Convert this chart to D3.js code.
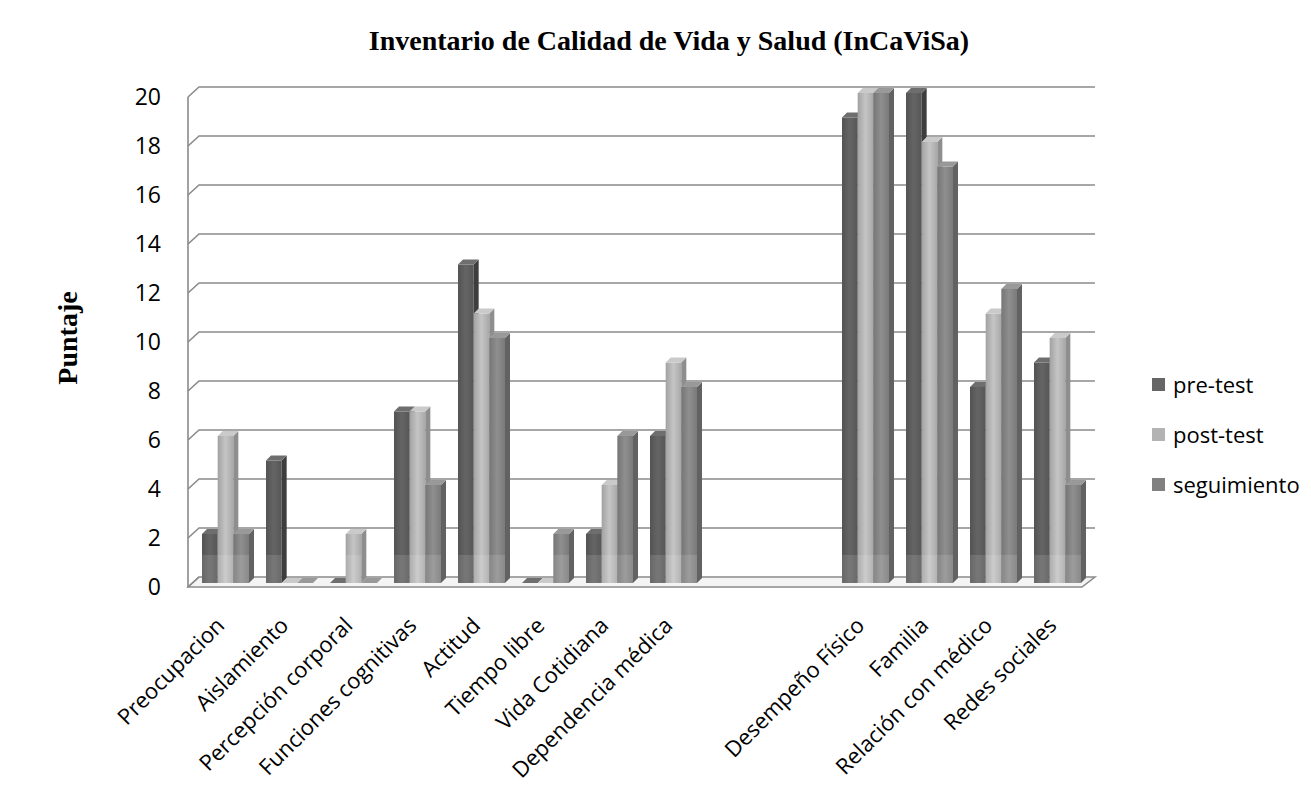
<!DOCTYPE html>
<html>
<head>
<meta charset="utf-8">
<script src="https://cdn.jsdelivr.net/npm/d3@7"></script>
<style>
	body { margin: 0; background: #fff; }
	text { fill: #000; }
</style>
</head>
<body>
<div id="chart"></div>
<script>
// data
var categories = ["Preocupacion", "Aislamiento", "Percepción corporal", "Funciones cognitivas", "Actitud",
	"Tiempo libre", "Vida Cotidiana", "Dependencia médica", "", "", "Desempeño Físico", "Familia",
	"Relación con médico", "Redes sociales"];
var series = ["pre-test", "post-test", "seguimiento"];
var preTest = [2, 5, 0, 7, 13, 0, 2, 6, null, null, 19, 20, 8, 9];
var postTest = [6, 0, 2, 7, 11, 0, 4, 9, null, null, 20, 18, 11, 10];
var seguimiento = [2, 0, 0, 4, 10, 2, 6, 8, null, null, 20, 17, 12, 4];
var yTicks = [0, 2, 4, 6, 8, 10, 12, 14, 16, 18, 20];

var values = [preTest, postTest, seguimiento];
var colors = ["#5c5c5c", "#b4b4b4", "#838383"];
var sideColors = ["#3e3e3e", "#8e8e8e", "#626262"];
var topColors = ["#6e6e6e", "#cacaca", "#999999"];

var width = 1311, height = 788;
var depthX = 11, depthY = -10; // wall depth
var svg = d3.select("#chart").append("svg")
	.attr("width", width)
	.attr("height", height);

var y = d3.scaleLinear().domain([0, 20]).range([577, 87]);
var x0 = d3.scaleBand().domain(d3.range(categories.length)).range([188, 1084]);
var x1 = d3.scaleBand().domain(series).range([14, 61]);

var defs = svg.append("defs");
colors.forEach(function(c, i) {
	var g = defs.append("linearGradient").attr("id", "g" + i);
	var base = d3.color(c);
	g.append("stop").attr("offset", "0%").attr("stop-color", base.darker(0.3));
	g.append("stop").attr("offset", "50%").attr("stop-color", base.brighter(0.25));
	g.append("stop").attr("offset", "100%").attr("stop-color", base.darker(0.2));
});

// floor
var left = x0.range()[0], right = x0.range()[1];
svg.append("path")
	.attr("d", "M" + left + "," + (y(0) + 10) + "L" + (right - 2) + "," + (y(0) + 10) +
		"L" + (right + depthX) + "," + y(0) + "L" + (left + depthX) + "," + y(0) + "Z")
	.style("fill", "#f4f4f4")
	.style("stroke", "#8a8a8a")
	.style("stroke-width", 1.5);

// back wall gridlines and side wall
var grid = svg.append("g");
grid.selectAll(".grid")
	.data(yTicks.slice(1))
	.enter().append("path")
	.attr("d", function(d) {
		return "M" + left + "," + (y(d) - depthY) + "L" + (left + depthX) + "," + y(d) + "L" + (right + depthX) + "," + y(d);
	})
	.style("fill", "none")
	.style("stroke", "#8a8a8a")
	.style("stroke-width", 1.6);
grid.append("line")
	.attr("x1", left).attr("x2", left)
	.attr("y1", y(20) - depthY).attr("y2", y(0) - depthY)
	.style("stroke", "#8a8a8a")
	.style("stroke-width", 1.6);
grid.append("line")
	.attr("x1", left).attr("x2", left + depthX)
	.attr("y1", y(0) - depthY).attr("y2", y(0))
	.style("stroke", "#8a8a8a")
	.style("stroke-width", 1.6);

// y tick labels
svg.append("g").selectAll(".ytick")
	.data(yTicks)
	.enter().append("text")
	.attr("x", 161)
	.attr("y", function(d) { return y(d) + 10; })
	.attr("dy", "0.35em")
	.attr("text-anchor", "end")
	.style("font-family", "'Open Sans', sans-serif")
	.style("font-size", "23px")
	.text(function(d) { return d; });

// bars
var d = 5, off = 6;
var groups = svg.append("g").selectAll(".group")
	.data(d3.range(categories.length).filter(function(i) { return preTest[i] !== null; }))
	.enter().append("g")
	.attr("transform", function(i) { return "translate(" + x0(i) + ",0)"; });

series.forEach(function(s, si) {
	groups.each(function(i) {
		var v = values[si][i];
		var g = d3.select(this);
		var bx = x1(s), bw = x1.bandwidth();
		var yt = y(v) + off, yb = y(0) + off;
		if (v > 0) {
			g.append("rect")
				.attr("x", bx).attr("y", yt)
				.attr("width", bw).attr("height", yb - yt)
				.style("fill", "url(#g" + si + ")");
			// lighter band near the base
			var band = Math.min(28, yb - yt);
			g.append("rect")
				.attr("x", bx).attr("y", yb - band)
				.attr("width", bw).attr("height", band)
				.style("fill", "#fff")
				.style("opacity", 0.12);
		}
		g.append("path")
			.attr("d", "M" + (bx + bw) + "," + yt + "L" + (bx + bw + d) + "," + (yt - d) +
				"L" + (bx + bw + d) + "," + (yb - d) + "L" + (bx + bw) + "," + yb + "Z")
			.style("fill", sideColors[si]);
		g.append("path")
			.attr("d", "M" + bx + "," + yt + "L" + (bx + d) + "," + (yt - d) +
				"L" + (bx + bw + d) + "," + (yt - d) + "L" + (bx + bw) + "," + yt + "Z")
			.style("fill", topColors[si]);
	});
});

// x labels
svg.append("g").selectAll(".xlabel")
	.data(d3.range(categories.length))
	.enter().append("text")
	.attr("transform", function(i) {
		return "translate(" + (x0(i) + x0.bandwidth() / 2 - 5) + ",616) rotate(-45)";
	})
	.attr("dy", "0.7em")
	.attr("text-anchor", "end")
	.style("font-family", "'Open Sans', sans-serif")
	.style("font-size", "22px")
	.text(function(i) { return categories[i]; });

// title
svg.append("text")
	.attr("x", 669).attr("y", 50)
	.attr("text-anchor", "middle")
	.style("font-family", "'Liberation Serif', serif")
	.style("font-weight", "bold")
	.style("font-size", "28px")
	.text("Inventario de Calidad de Vida y Salud (InCaViSa)");

svg.append("text")
	.attr("transform", "translate(77,338) rotate(-90)")
	.attr("text-anchor", "middle")
	.style("font-family", "'Liberation Serif', serif")
	.style("font-weight", "bold")
	.style("font-size", "28px")
	.text("Puntaje");

// legend
var legend = svg.append("g").selectAll(".legend")
	.data(series)
	.enter().append("g")
	.attr("transform", function(s, i) { return "translate(1152," + (385 + i * 50) + ")"; });
legend.append("rect")
	.attr("x", 0).attr("y", -7)
	.attr("width", 13).attr("height", 13)
	.style("fill", function(s, i) { return ["#666666", "#b3b3b3", "#808080"][i]; });
legend.append("text")
	.attr("x", 21).attr("dy", "0.35em")
	.style("font-family", "'Open Sans', sans-serif")
	.style("font-size", "22px")
	.text(function(s) { return s; });
</script>
</body>
</html>
